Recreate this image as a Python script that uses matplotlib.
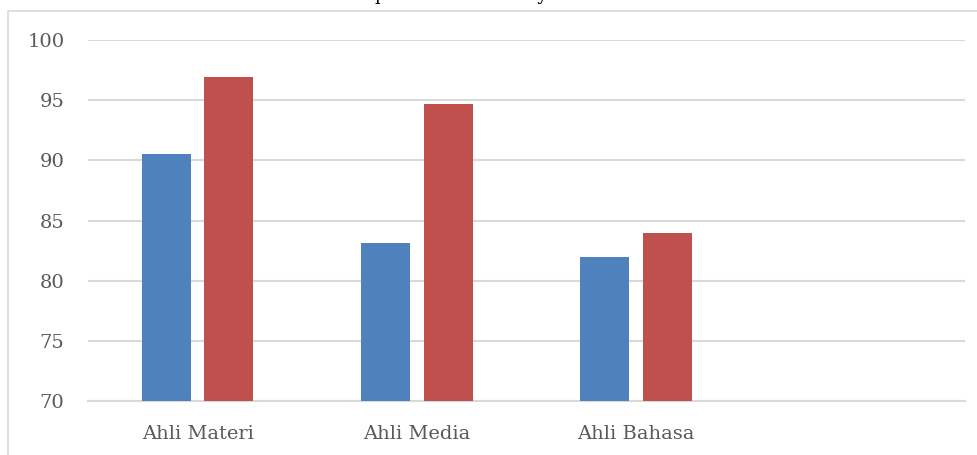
import matplotlib.pyplot as plt
import numpy as np
from matplotlib.patches import Rectangle

categories = ['Ahli Materi', 'Ahli Media', 'Ahli Bahasa']
series_1 = [90.5, 83.1, 82.0]
series_2 = [96.9, 94.7, 84.0]
y_ticks = [70, 75, 80, 85, 90, 95, 100]
n_slots = 4

plt.rcParams['font.family'] = ['DejaVu Serif']

fig = plt.figure(figsize=(9.77, 4.55), dpi=100)
ax = fig.add_axes([88 / 977, 54 / 455, 877 / 977, 361 / 455])

x = np.arange(len(categories))
w = 0.223
off = 0.1425
ax.bar(x - off, series_1, width=w, bottom=0, color='#4F81BD', zorder=3)
ax.bar(x + off, series_2, width=w, bottom=0, color='#C0504D', zorder=3)

ax.set_xlim(-0.5, n_slots - 0.5)
ax.set_ylim(70, 100)
ax.set_yticks(y_ticks)
ax.set_xticks(x)
ax.set_xticklabels(categories)
ax.tick_params(axis='both', length=0, labelsize=14, colors='#595959')
ax.tick_params(axis='y', pad=17)
ax.tick_params(axis='x', pad=17)
ax.grid(axis='y', color='#d9d9d9', linewidth=1.5, zorder=0)
for s in ['left', 'right', 'top']:
    ax.spines[s].set_visible(False)
ax.spines['bottom'].set_color('#d9d9d9')
ax.spines['bottom'].set_linewidth(1.5)

# outer chart frame (cropped at right and bottom)
frame = Rectangle((8 / 977, -0.1), 1.2, 1.1 - 11 / 455, transform=fig.transFigure,
                  fill=False, edgecolor='#d9d9d9', linewidth=1.2, clip_on=False)
fig.patches.append(frame)

# title, mostly cut off above the image
fig.text(0.3363, 1 + 0.5 / 455, 'Rekapitulasi Skor Kelayakan', fontsize=13, color='black',
         ha='left', va='baseline')

fig.savefig('out.png', dpi=100)
